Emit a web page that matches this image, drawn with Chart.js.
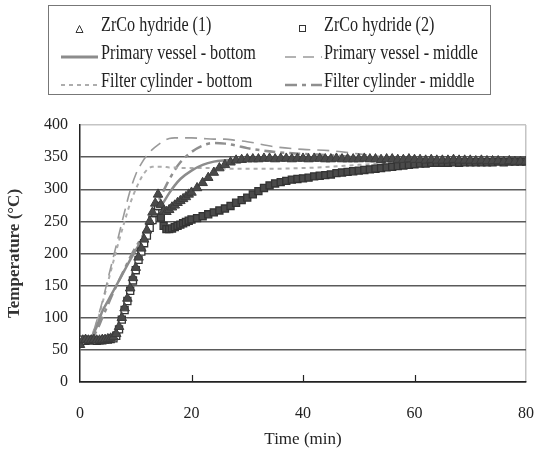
<!DOCTYPE html>
<html>
<head>
<meta charset="utf-8">
<script src="https://cdn.jsdelivr.net/npm/chart.js@4.4.0/dist/chart.umd.min.js"></script>
<style>
  body { margin: 0; background: #fff; }
  #wrap { position: relative; width: 535px; height: 459px; }
  #legend {
    position: absolute; left: 48px; top: 5px; width: 441px; height: 88px;
    border: 1.5px solid #777; font-family: "Liberation Serif", serif; color: #222;
  }
  .lg-sample { position: absolute; }
  .lg-text {
    position: absolute; font-size: 21px; line-height: 21px; white-space: nowrap;
    transform: scaleX(0.77); transform-origin: left center;
  }
</style>
</head>
<body>
<div id="wrap">
  <canvas id="chart" width="535" height="459"></canvas>
  <div id="legend"></div>
</div>
<script>
// hydride thermocouples (markers), time in min
const hydrideTime = [0,0.5,1,1.5,2,2.5,3,3.5,4,4.5,5,5.5,6,6.5,7,7.5,8,8.5,9,9.5,10,
  10.5,11,11.5,12,12.5,13,13.5,14,14.5,15,15.5,16,16.5,17,17.5,18,18.5,19,19.5,20,
  21,22,23,24,25,26,27,28,29,30,31,32,33,34,35,36,37,38,39,40,
  41,42,43,44,45,46,47,48,49,50,51,52,53,54,55,56,57,58,59,60,
  61,62,63,64,65,66,67,68,69,70,71,72,73,74,75,76,77,78,79,80];

const hydride1 = [58,65,66,65,65,66,65,65,66,66,67,68,70,75,86,100,115,130,146,162,178,
  194,208,222,236,250,264,278,292,276,266,265,268,272,275,279,282,285,288,292,295,
  302,310,318,326,333,338,342,345,346,347,347,347,348,348,347,348,348,347,348,348,
  347,348,348,347,347,348,347,347,347,347,348,347,347,346,347,347,346,346,347,346,
  346,345,346,345,345,345,346,345,345,345,344,345,344,344,344,343,344,343,343,343];

const hydride2 = [62,66,64,65,66,65,64,65,65,66,66,67,68,72,82,97,112,126,142,158,174,
  190,203,216,228,240,252,263,274,256,243,238,238,239,241,243,245,247,249,251,253,
  255,258,261,264,267,270,274,279,283,287,292,297,302,306,309,311,313,315,316,317,
  318,320,321,322,323,325,326,327,328,329,330,331,332,333,334,335,336,337,338,339,
  340,340,341,341,341,341,342,341,342,342,342,342,342,342,343,342,343,343,343,343];

// vessel / filter thermocouples (lines)
const lineTime = [0,1,2,3,4,5,6,7,8,9,10,11,12,13,14,15,16,17,18,20,22,24,26,28,30,
  35,40,45,50,55,60,65,70,75,80];

const primaryBottom = [65,66,70,86,110,126,142,158,174,190,205,220,236,250,266,280,294,306,316,329,338,343,345,346,346,
  346,346,346,346,346,345,345,345,344,344];
const primaryMiddle = [65,66,70,95,125,160,195,230,265,298,323,340,353,362,369,375,379,380,380,380,379,378,378,376,374,
  366,362,360,355,350,348,346,345,344,343];
const filterBottom = [65,66,72,92,122,155,188,220,250,278,300,318,330,335,335,335,334,334,333,333,333,333,332,332,332,
  332,333,335,338,340,342,343,343,343,343];
const filterMiddle = [65,66,68,80,100,120,140,158,176,194,210,224,240,260,280,298,315,330,342,358,368,372,371,368,364,
  358,355,353,350,348,347,345,344,344,343];

const labels = ['ZrCo hydride (1)', 'ZrCo hydride (2)', 'Primary vessel - bottom',
  'Primary vessel - middle', 'Filter cylinder - bottom', 'Filter cylinder - middle'];

const xTicks = [0, 20, 40, 60, 80];
const yTicks = [0, 50, 100, 150, 200, 250, 300, 350, 400];

const pts = (xs, ys) => xs.map((x, i) => ({x: x, y: ys[i]}));

const serif = '"Liberation Serif", "Times New Roman", serif';

// little ticks pointing up from the time axis
const innerTicks = {
  id: 'innerTicks',
  beforeDatasetsDraw(chart) {
    const ctx = chart.ctx, xs = chart.scales.x, bottom = chart.chartArea.bottom;
    ctx.save();
    ctx.strokeStyle = '#222';
    ctx.lineWidth = 1.2;
    xTicks.slice(1, -1).forEach(v => {
      const px = Math.round(xs.getPixelForValue(v)) + 0.5;
      ctx.beginPath();
      ctx.moveTo(px, bottom);
      ctx.lineTo(px, bottom - 7);
      ctx.stroke();
    });
    ctx.restore();
  }
};

const lineDs = (label, data, color, width, dash) => ({
  label: label,
  data: pts(lineTime, data),
  borderColor: color,
  borderWidth: width,
  borderDash: dash,
  pointRadius: 0,
  fill: false,
  cubicInterpolationMode: 'monotone'
});

new Chart(document.getElementById('chart'), {
  type: 'scatter',
  data: {
    datasets: [
      {
        label: labels[0],
        data: pts(hydrideTime, hydride1),
        pointStyle: 'triangle',
        pointRadius: 5.5,
        borderColor: '#3c3c3c',
        backgroundColor: '#4a4a4a',
        borderWidth: 1,
        showLine: false
      },
      {
        label: labels[1],
        data: pts(hydrideTime, hydride2),
        pointStyle: 'rect',
        pointRadius: 5,
        borderColor: '#333',
        backgroundColor: c => (c.raw && c.raw.x <= 14 ? '#fff' : '#4a4a4a'),
        borderWidth: 1.3,
        showLine: false
      },
      lineDs(labels[2], primaryBottom, '#8c8c8c', 2.5, []),
      lineDs(labels[3], primaryMiddle, '#9a9a9a', 1.6, [12, 7]),
      lineDs(labels[4], filterBottom, '#adadad', 2, [4, 4]),
      lineDs(labels[5], filterMiddle, '#8f8f8f', 2.5, [11, 5, 4, 5])
    ]
  },
  options: {
    responsive: false,
    animation: false,
    showLine: true,
    layout: { padding: { top: 125, right: 9, left: 0, bottom: 0 } },
    plugins: {
      legend: { display: false },
      tooltip: { enabled: false }
    },
    scales: {
      x: {
        type: 'linear',
        min: 0, max: 80,
        afterBuildTicks: s => { s.ticks = xTicks.map(v => ({value: v})); },
        afterFit: s => { s.height = 77; s.paddingLeft = 0; s.paddingRight = 9; },
        ticks: { padding: 22, color: '#222', font: { family: serif, size: 16 } },
        grid: {
          drawTicks: false,
          lineWidth: 1.5,
          color: c => (c.tick && c.tick.value === 80 ? '#c4c4c4' : 'rgba(0,0,0,0)')
        },
        border: { color: '#222', width: 1.5 },
        title: {
          display: true, text: 'Time (min)', color: '#222',
          font: { family: serif, size: 17 }, padding: { top: 4, bottom: 9 }
        }
      },
      y: {
        min: 0, max: 400,
        afterBuildTicks: s => { s.ticks = yTicks.map(v => ({value: v})); },
        afterFit: s => { s.width = 80; },
        ticks: { padding: 12, color: '#222', font: { family: serif, size: 16 } },
        grid: {
          drawTicks: false,
          lineWidth: 1.5,
          color: c => {
            const v = c.tick && c.tick.value;
            if (v === 400) return '#c4c4c4';
            if (v === 0) return '#222';
            return '#5a5a5a';
          }
        },
        border: { color: '#222', width: 1.5 },
        title: {
          display: true, text: 'Temperature (°C)', color: '#333',
          font: { family: serif, size: 17, weight: 'bold' }, padding: 4
        }
      }
    }
  },
  plugins: [innerTicks]
});

// legend box, two columns
const legendItems = [
  { col: 0, row: 0, kind: 'tri' },
  { col: 1, row: 0, kind: 'rect' },
  { col: 0, row: 1, kind: 'line', color: '#8c8c8c', width: 3, dash: '' },
  { col: 1, row: 1, kind: 'line', color: '#9a9a9a', width: 1.6, dash: '11 7' },
  { col: 0, row: 2, kind: 'line', color: '#adadad', width: 2, dash: '4 4' },
  { col: 1, row: 2, kind: 'line', color: '#8f8f8f', width: 2.6, dash: '12 5 4 5' }
];
const colSample = [12, 236], colText = [52, 275], rowMid = [19, 47, 75];
const legend = document.getElementById('legend');
legendItems.forEach((it, i) => {
  const top = rowMid[it.row];
  let svg;
  if (it.kind === 'tri') {
    svg = '<svg width="37" height="10"><polygon points="18.5,1.5 22,8.5 15,8.5" fill="#fff" stroke="#333" stroke-width="1"/></svg>';
  } else if (it.kind === 'rect') {
    svg = '<svg width="37" height="10"><rect x="14.5" y="1.5" width="6" height="6" fill="#fff" stroke="#333" stroke-width="1"/></svg>';
  } else {
    svg = '<svg width="37" height="10"><line x1="0" y1="5" x2="37" y2="5" stroke="' + it.color +
      '" stroke-width="' + it.width + '" stroke-dasharray="' + it.dash + '"/></svg>';
  }
  const s = document.createElement('div');
  s.className = 'lg-sample';
  s.style.left = colSample[it.col] + 'px';
  s.style.top = (top - 5) + 'px';
  s.innerHTML = svg;
  legend.appendChild(s);
  const t = document.createElement('div');
  t.className = 'lg-text';
  t.style.left = colText[it.col] + 'px';
  t.style.top = (top - 11) + 'px';
  t.textContent = labels[i];
  legend.appendChild(t);
});
</script>
</body>
</html>
